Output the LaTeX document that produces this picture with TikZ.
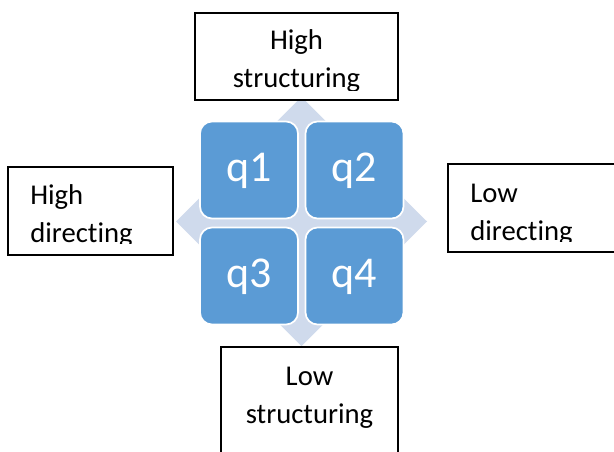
\documentclass[tikz,border=0pt]{standalone}
\usepackage{fontspec}
\setmainfont[Ligatures=NoCommon]{Carlito}
\definecolor{qblue}{RGB}{91,155,213}
\definecolor{dlight}{RGB}{207,218,236}
\begin{document}
\begin{tikzpicture}[x=0.75pt,y=-0.75pt,
  qbox/.style={fill=qblue, draw=white, line width=1.3pt, rounded corners=9pt,
    minimum width=73.5pt, minimum height=72.75pt, inner sep=0pt,
    text=white, font=\fontsize{33}{38}\selectfont,
    text height=18pt, text depth=0pt},
  lbox/.style={draw=black, fill=white, line width=1.1pt, inner sep=0pt},
  ltext/.style={inner sep=0pt, font=\fontsize{21.5}{26}\selectfont, text=black}]
\clip (0,0) rectangle (614,452);
\fill[white] (0,0) rectangle (614,452);
% background diamond
\fill[dlight] (301.5,97) -- (427,221.5) -- (301.5,346) -- (176,221.5) -- cycle;
% quadrants
\node[qbox] (q1) at (249,170) {q1};
\node[qbox] (q2) at (354.5,170) {q2};
\node[qbox] (q3) at (249,276) {q3};
\node[qbox] (q4) at (354.5,276) {q4};
% boxes
\node[lbox, minimum width=152.25pt, minimum height=65.25pt] (topbox) at (296.5,56.5) {};
\node[lbox, minimum width=123.75pt, minimum height=66pt] (leftbox) at (90.5,211) {};
\node[lbox, minimum width=130.5pt, minimum height=66pt] (rightbox) at (535,208) {};
\node[lbox, minimum width=132.75pt, minimum height=92.25pt] (bottombox) at (309.5,408.5) {};
% texts
\begin{scope}
  \clip (195,13) rectangle (398,91);
  \node[ltext, anchor=base] (t1a) at (296.5,50) {High};
  \node[ltext, anchor=base] (t1b) at (296.5,88) {structuring};
\end{scope}
\begin{scope}
  \clip (8,167) rectangle (173,244);
  \node[ltext, anchor=base west] (t2a) at (30,205) {High};
  \node[ltext, anchor=base west] (t2b) at (30,243) {directing};
\end{scope}
\begin{scope}
  \clip (448,164) rectangle (614,242);
  \node[ltext, anchor=base west] (t3a) at (470,203) {Low};
  \node[ltext, anchor=base west] (t3b) at (470,241) {directing};
\end{scope}
\node[ltext, anchor=base] (t4a) at (309.5,385) {Low};
\node[ltext, anchor=base] (t4b) at (309.5,423) {structuring};
\end{tikzpicture}
\end{document}
